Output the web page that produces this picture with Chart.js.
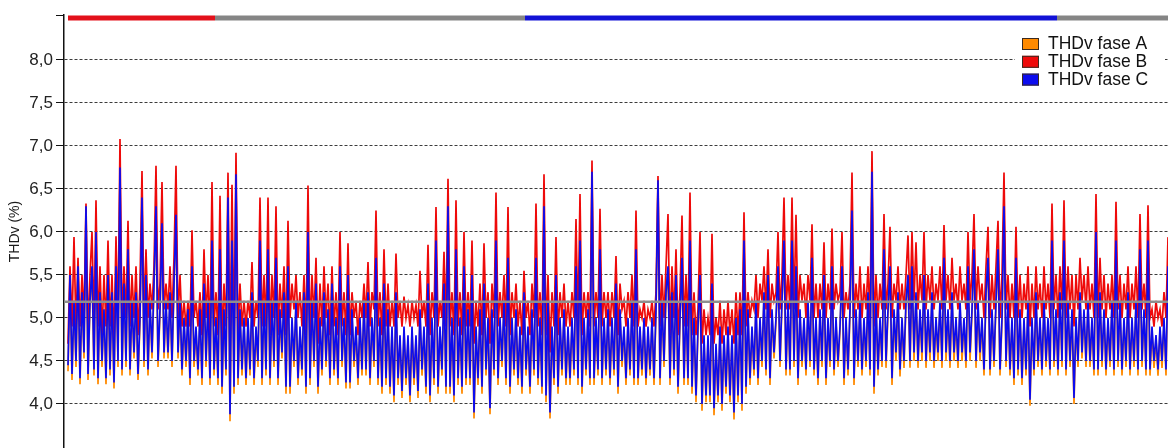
<!DOCTYPE html>
<html>
<head>
<meta charset="utf-8">
<title>THDv</title>
<script src="https://cdn.jsdelivr.net/npm/chart.js@4.4.1/dist/chart.umd.min.js"></script>
<style>
    html, body { margin: 0; padding: 0; background: #ffffff; }
    #thdChart { display: block; }
</style>
</head>
<body>
<canvas id="thdChart" width="1168" height="448"></canvas>
<script>
//THDv samples per phase (%), one sample per step of the time axis
var phaseA = [
    4.38, 5.45, 4.28, 5.15, 4.43, 5.55, 4.23, 5.25, 4.53, 6.25,
    4.28, 5.15, 5.55, 4.33, 5.95, 4.23, 5.25, 4.43, 5.05, 4.23,
    5.45, 4.33, 5.25, 4.18, 5.55, 4.43, 6.7, 4.33, 5.35, 4.43,
    5.75, 4.33, 5.15, 4.53, 5.25, 4.28, 4.95, 6.35, 4.43, 5.45,
    4.33, 5.15, 4.53, 5.35, 6.25, 4.43, 5.05, 6.05, 4.53, 5.15,
    4.53, 5.25, 4.43, 5.35, 6.15, 4.53, 5.15, 4.33, 4.95, 4.43,
    5.05, 4.22, 5.55, 4.43, 4.85, 4.33, 5.05, 4.22, 5.35, 4.43,
    5.15, 4.22, 5.85, 4.33, 4.95, 4.22, 5.75, 4.12, 5.05, 4.33,
    6.35, 3.8, 5.85, 4.12, 6.6, 4.22, 5.05, 4.33, 4.95, 4.22,
    4.95, 4.33, 5.25, 4.22, 4.85, 4.43, 5.85, 4.22, 5.15, 4.33,
    5.75, 4.22, 5.15, 4.43, 5.65, 4.22, 5.05, 4.53, 5.25, 4.12,
    5.55, 4.12, 4.95, 4.43, 5.15, 4.22, 4.85, 4.33, 5.25, 4.12,
    5.95, 4.22, 5.15, 4.43, 5.35, 4.12, 4.95, 4.33, 5.25, 4.43,
    5.05, 4.22, 5.35, 4.33, 4.95, 4.22, 5.55, 4.43, 4.95, 4.18,
    5.45, 4.18, 5.05, 4.43, 4.85, 4.22, 4.95, 4.33, 5.15, 4.33,
    5.25, 4.22, 4.95, 4.43, 5.65, 4.22, 4.95, 4.12, 5.35, 4.22,
    5.05, 4.12, 4.85, 4.02, 5.25, 4.22, 4.75, 4.07, 4.85, 4.22,
    4.75, 4.02, 4.85, 4.22, 4.75, 4.07, 5.05, 4.33, 4.85, 4.12,
    5.35, 4.02, 4.95, 4.22, 5.85, 4.12, 4.85, 4.33, 5.35, 4.12,
    6.25, 4.12, 4.95, 4.02, 5.75, 4.22, 4.95, 4.12, 5.55, 4.22,
    5.05, 4.22, 5.45, 3.83, 4.85, 4.22, 5.05, 4.12, 5.35, 4.33,
    4.95, 3.88, 5.05, 4.33, 5.85, 4.22, 4.95, 4.43, 5.15, 4.22,
    5.65, 4.12, 4.95, 4.33, 5.05, 4.22, 4.85, 4.12, 5.25, 4.33,
    4.85, 4.12, 5.05, 4.33, 5.65, 4.22, 4.95, 4.12, 6.25, 4.02,
    5.15, 3.83, 4.85, 4.22, 5.45, 4.12, 4.95, 4.33, 5.05, 4.22,
    4.85, 4.22, 4.95, 4.33, 5.55, 4.22, 5.85, 4.12, 4.95, 4.33,
    5.05, 4.22, 6.65, 4.22, 4.95, 4.33, 5.75, 4.22, 4.95, 4.33,
    5.05, 4.22, 4.95, 4.33, 5.35, 4.12, 5.05, 4.43, 4.85, 4.22,
    4.95, 4.33, 5.15, 4.22, 5.75, 4.22, 4.85, 4.33, 4.95, 4.22,
    4.85, 4.33, 4.95, 4.22, 5.05, 6.55, 4.22, 5.15, 4.43, 5.25,
    5.55, 4.22, 5.25, 4.33, 5.45, 4.12, 4.95, 5.65, 4.22, 5.15,
    4.22, 5.85, 4.12, 4.95, 4.02, 4.85, 5.45, 3.92, 4.75, 4.02,
    4.75, 4.02, 5.35, 3.87, 4.65, 4.02, 4.85, 3.92, 4.75, 4.12,
    4.85, 4.02, 4.75, 3.82, 4.95, 4.02, 5.05, 3.92, 5.85, 4.12,
    5.05, 4.22, 4.85, 4.33, 5.15, 4.22, 4.95, 4.43, 5.25, 4.33,
    5.45, 4.22, 5.05, 4.53, 4.95, 5.55, 4.43, 5.15, 5.85, 4.33,
    5.15, 4.33, 5.85, 4.43, 5.55, 4.22, 5.05, 4.43, 4.95, 4.33,
    5.15, 4.43, 5.65, 4.33, 4.95, 4.22, 5.05, 4.43, 5.45, 4.22,
    4.95, 4.43, 5.55, 4.33, 4.95, 4.43, 4.85, 5.55, 4.22, 4.95,
    4.33, 5.05, 6.2, 4.22, 5.05, 4.43, 5.15, 4.33, 4.95, 4.43,
    5.25, 4.33, 6.65, 4.12, 5.15, 4.33, 4.95, 4.43, 5.75, 4.42,
    5.05, 5.55, 4.22, 5.05, 4.5, 5.25, 4.32, 4.95, 4.42, 5.15,
    5.45, 4.42, 5.55, 4.5, 5.25, 4.42, 5.05, 4.5, 5.45, 4.42,
    5.05, 4.5, 5.25, 4.42, 4.95, 4.5, 5.15, 4.42, 5.65, 4.5,
    5.05, 4.42, 5.25, 4.5, 4.95, 4.42, 5.15, 4.5, 4.95, 4.42,
    5.55, 4.5, 5.05, 5.75, 4.42, 5.15, 4.5, 4.95, 4.33, 5.25,
    5.65, 4.33, 5.05, 4.43, 5.15, 5.75, 4.33, 4.95, 6.25, 4.43,
    5.15, 4.33, 4.95, 4.22, 5.65, 4.33, 5.05, 4.22, 4.95, 4.33,
    5.15, 3.98, 4.95, 4.33, 5.25, 4.43, 4.95, 4.33, 5.15, 4.43,
    4.95, 4.33, 5.85, 4.43, 5.05, 4.33, 5.25, 4.43, 5.85, 4.33,
    5.15, 4.43, 5.05, 4.0, 4.95, 4.43, 5.25, 4.53, 5.05, 4.43,
    5.15, 4.43, 4.95, 4.33, 5.95, 4.33, 5.25, 4.43, 5.05, 4.33,
    4.95, 4.43, 5.15, 4.33, 5.85, 4.43, 5.15, 4.33, 4.95, 4.43,
    5.25, 4.33, 4.95, 4.43, 5.15, 4.33, 5.75, 4.43, 5.05, 4.33,
    5.85, 4.33, 4.85, 4.42, 4.75, 4.33, 4.85, 4.42, 4.95, 4.33,
    5.55
];
var phaseB = [
    4.7, 5.6, 4.9, 5.94, 4.85, 5.7, 4.9, 5.5, 5.0, 6.33,
    4.8, 5.5, 6.0, 4.9, 6.37, 4.9, 5.6, 4.8, 5.5, 4.9,
    5.9, 4.9, 5.5, 4.7, 5.95, 4.9, 7.08, 4.9, 5.6, 5.0,
    6.13, 4.9, 5.5, 5.0, 5.6, 4.8, 5.4, 6.71, 5.0, 5.8,
    5.0, 5.4, 5.1, 5.6, 6.77, 5.1, 5.4, 6.58, 5.1, 5.4,
    5.1, 5.6, 5.0, 5.7, 6.77, 5.0, 5.5, 4.9, 5.2, 4.9,
    5.2, 4.9, 6.02, 5.0, 5.2, 4.9, 5.3, 4.8, 5.8, 5.0,
    5.5, 4.8, 6.58, 4.9, 5.3, 4.8, 6.42, 4.7, 5.4, 4.9,
    6.69, 4.5, 6.55, 4.7, 6.92, 4.8, 5.4, 4.9, 5.2, 4.9,
    5.2, 5.0, 5.65, 4.9, 5.2, 5.0, 6.4, 4.9, 5.5, 4.9,
    6.4, 4.8, 5.5, 5.0, 6.3, 4.8, 5.4, 5.0, 5.6, 4.8,
    6.13, 5.0, 5.4, 5.1, 5.5, 5.0, 5.3, 4.9, 5.5, 4.8,
    6.54, 4.8, 5.5, 5.0, 5.7, 4.7, 5.4, 4.9, 5.6, 5.0,
    5.4, 4.8, 5.6, 4.9, 5.3, 4.8, 6.0, 4.9, 5.3, 4.8,
    5.87, 4.8, 5.3, 5.0, 5.2, 4.8, 5.2, 5.0, 5.4, 5.0,
    5.65, 4.9, 5.3, 5.1, 6.25, 4.9, 5.3, 4.8, 5.8, 4.9,
    5.4, 4.9, 5.2, 4.9, 5.75, 5.0, 5.2, 4.9, 5.25, 5.0,
    5.15, 4.9, 5.2, 5.0, 5.15, 4.9, 5.55, 5.0, 5.2, 4.9,
    5.85, 4.8, 5.3, 5.0, 6.29, 4.9, 5.2, 5.0, 5.77, 4.9,
    6.62, 4.9, 5.3, 4.8, 6.37, 4.9, 5.3, 4.8, 6.0, 4.9,
    5.3, 4.9, 5.9, 4.7, 5.2, 4.9, 5.4, 4.8, 5.87, 5.0,
    5.3, 4.7, 5.4, 5.0, 6.46, 4.9, 5.3, 5.0, 5.5, 4.9,
    6.29, 4.8, 5.3, 5.0, 5.4, 4.9, 5.2, 4.8, 5.55, 5.0,
    5.2, 4.8, 5.4, 5.0, 6.33, 4.9, 5.3, 4.8, 6.67, 4.8,
    5.5, 4.6, 5.3, 4.9, 5.94, 4.8, 5.3, 5.0, 5.4, 4.9,
    5.2, 4.9, 5.3, 5.0, 6.15, 4.9, 6.44, 4.8, 5.3, 5.0,
    5.3, 4.9, 6.83, 4.9, 5.3, 5.0, 6.27, 4.9, 5.3, 5.0,
    5.3, 4.9, 5.3, 5.0, 5.72, 4.8, 5.4, 5.1, 5.2, 4.9,
    5.3, 5.0, 5.5, 4.9, 6.25, 4.9, 5.1, 5.0, 5.2, 4.9,
    5.1, 5.0, 5.2, 4.9, 5.3, 6.65, 4.9, 5.5, 5.0, 5.6,
    6.21, 4.8, 5.6, 5.0, 5.8, 4.8, 5.3, 6.19, 4.9, 5.5,
    4.9, 6.46, 4.8, 5.3, 4.8, 5.1, 6.0, 4.7, 5.1, 4.8,
    5.0, 4.8, 5.98, 4.7, 5.0, 4.8, 5.2, 4.7, 5.1, 4.8,
    5.2, 4.8, 5.1, 4.7, 5.3, 4.8, 5.3, 4.8, 6.23, 4.9,
    5.3, 5.0, 5.2, 5.1, 5.5, 5.0, 5.4, 5.2, 5.6, 5.1,
    5.8, 5.0, 5.4, 5.2, 5.3, 6.0, 5.1, 5.5, 6.4, 5.1,
    5.5, 5.1, 6.4, 5.1, 6.2, 5.0, 5.5, 5.2, 5.4, 5.0,
    5.5, 5.2, 6.09, 5.0, 5.4, 5.0, 5.4, 5.1, 5.88, 5.0,
    5.4, 5.1, 6.04, 5.1, 5.4, 5.2, 5.3, 6.0, 5.0, 5.3,
    5.1, 5.4, 6.69, 5.0, 5.4, 5.1, 5.6, 5.0, 5.4, 5.1,
    5.6, 5.0, 6.94, 4.9, 5.5, 5.0, 5.4, 5.1, 6.21, 5.1,
    5.4, 6.06, 5.0, 5.4, 5.2, 5.6, 5.1, 5.4, 5.1, 5.5,
    5.96, 5.1, 6.0, 5.2, 5.88, 5.1, 5.5, 5.2, 6.0, 5.1,
    5.5, 5.2, 5.6, 5.1, 5.4, 5.2, 5.6, 5.1, 6.08, 5.2,
    5.5, 5.1, 5.7, 5.2, 5.4, 5.1, 5.6, 5.2, 5.4, 5.1,
    6.0, 5.2, 5.5, 6.21, 5.1, 5.6, 5.2, 5.4, 5.0, 5.6,
    6.06, 5.0, 5.5, 5.1, 5.6, 6.13, 5.0, 5.5, 6.69, 5.1,
    5.5, 5.0, 5.4, 5.0, 6.06, 5.0, 5.5, 5.0, 5.4, 5.1,
    5.6, 4.9, 5.4, 5.0, 5.6, 5.1, 5.4, 5.0, 5.6, 5.1,
    5.4, 5.0, 6.33, 5.1, 5.5, 5.0, 5.6, 5.1, 6.37, 5.0,
    5.6, 5.1, 5.5, 4.9, 5.5, 5.1, 5.7, 5.2, 5.5, 5.1,
    5.6, 5.1, 5.4, 5.0, 6.44, 5.0, 5.7, 5.1, 5.5, 5.0,
    5.4, 5.1, 5.5, 5.0, 6.35, 5.1, 5.5, 5.0, 5.4, 5.1,
    5.6, 5.0, 5.4, 5.1, 5.6, 5.0, 6.21, 5.1, 5.4, 5.0,
    6.31, 5.0, 5.1, 4.9, 5.2, 5.0, 5.1, 4.9, 5.3, 5.0,
    5.94
];
var phaseC = [
    4.45, 5.5, 4.35, 5.2, 4.5, 5.6, 4.3, 5.3, 4.6, 6.3,
    4.35, 5.2, 5.6, 4.4, 6.0, 4.3, 5.3, 4.5, 5.1, 4.3,
    5.5, 4.4, 5.3, 4.25, 5.6, 4.5, 6.75, 4.4, 5.4, 4.5,
    5.8, 4.4, 5.2, 4.6, 5.3, 4.35, 5.0, 6.4, 4.5, 5.5,
    4.4, 5.2, 4.6, 5.4, 6.3, 4.5, 5.1, 6.1, 4.6, 5.2,
    4.6, 5.3, 4.5, 5.4, 6.2, 4.6, 5.2, 4.4, 5.0, 4.5,
    5.1, 4.3, 5.6, 4.5, 4.9, 4.4, 5.1, 4.3, 5.4, 4.5,
    5.2, 4.3, 5.9, 4.4, 5.0, 4.3, 5.8, 4.2, 5.1, 4.4,
    6.4, 3.88, 5.9, 4.2, 6.67, 4.3, 5.1, 4.4, 5.0, 4.3,
    5.0, 4.4, 5.3, 4.3, 4.9, 4.5, 5.9, 4.3, 5.2, 4.4,
    5.8, 4.3, 5.2, 4.5, 5.7, 4.3, 5.1, 4.6, 5.3, 4.2,
    5.6, 4.2, 5.0, 4.5, 5.2, 4.3, 4.9, 4.4, 5.3, 4.2,
    6.0, 4.3, 5.2, 4.5, 5.4, 4.2, 5.0, 4.4, 5.3, 4.5,
    5.1, 4.3, 5.4, 4.4, 5.0, 4.3, 5.6, 4.5, 5.0, 4.25,
    5.5, 4.25, 5.1, 4.5, 4.9, 4.3, 5.0, 4.4, 5.2, 4.4,
    5.3, 4.3, 5.0, 4.5, 5.7, 4.3, 5.0, 4.2, 5.4, 4.3,
    5.1, 4.2, 4.9, 4.1, 5.3, 4.3, 4.8, 4.15, 4.9, 4.3,
    4.8, 4.1, 4.9, 4.3, 4.8, 4.15, 5.1, 4.4, 4.9, 4.2,
    5.4, 4.1, 5.0, 4.3, 5.9, 4.2, 4.9, 4.4, 5.4, 4.2,
    6.3, 4.2, 5.0, 4.1, 5.8, 4.3, 5.0, 4.2, 5.6, 4.3,
    5.1, 4.3, 5.5, 3.9, 4.9, 4.3, 5.1, 4.2, 5.4, 4.4,
    5.0, 3.95, 5.1, 4.4, 5.9, 4.3, 5.0, 4.5, 5.2, 4.3,
    5.7, 4.2, 5.0, 4.4, 5.1, 4.3, 4.9, 4.2, 5.3, 4.4,
    4.9, 4.2, 5.1, 4.4, 5.7, 4.3, 5.0, 4.2, 6.3, 4.1,
    5.2, 3.9, 4.9, 4.3, 5.5, 4.2, 5.0, 4.4, 5.1, 4.3,
    4.9, 4.3, 5.0, 4.4, 5.6, 4.3, 5.9, 4.2, 5.0, 4.4,
    5.1, 4.3, 6.7, 4.3, 5.0, 4.4, 5.8, 4.3, 5.0, 4.4,
    5.1, 4.3, 5.0, 4.4, 5.4, 4.2, 5.1, 4.5, 4.9, 4.3,
    5.0, 4.4, 5.2, 4.3, 5.8, 4.3, 4.9, 4.4, 5.0, 4.3,
    4.9, 4.4, 5.0, 4.3, 5.1, 6.6, 4.3, 5.2, 4.5, 5.3,
    5.6, 4.3, 5.3, 4.4, 5.5, 4.2, 5.0, 5.7, 4.3, 5.2,
    4.3, 5.9, 4.2, 5.0, 4.1, 4.9, 5.5, 4.0, 4.8, 4.1,
    4.8, 4.1, 5.4, 3.95, 4.7, 4.1, 4.9, 4.0, 4.8, 4.2,
    4.9, 4.1, 4.8, 3.9, 5.0, 4.1, 5.1, 4.0, 5.9, 4.2,
    5.1, 4.3, 4.9, 4.4, 5.2, 4.3, 5.0, 4.5, 5.3, 4.4,
    5.5, 4.3, 5.1, 4.6, 5.0, 5.6, 4.5, 5.2, 5.9, 4.4,
    5.2, 4.4, 5.9, 4.5, 5.6, 4.3, 5.1, 4.5, 5.0, 4.4,
    5.2, 4.5, 5.7, 4.4, 5.0, 4.3, 5.1, 4.5, 5.5, 4.3,
    5.0, 4.5, 5.6, 4.4, 5.0, 4.5, 4.9, 5.6, 4.3, 5.0,
    4.4, 5.1, 6.25, 4.3, 5.1, 4.5, 5.2, 4.4, 5.0, 4.5,
    5.3, 4.4, 6.7, 4.2, 5.2, 4.4, 5.0, 4.5, 5.8, 4.5,
    5.1, 5.6, 4.3, 5.1, 4.6, 5.3, 4.4, 5.0, 4.5, 5.2,
    5.5, 4.5, 5.6, 4.6, 5.3, 4.5, 5.1, 4.6, 5.5, 4.5,
    5.1, 4.6, 5.3, 4.5, 5.0, 4.6, 5.2, 4.5, 5.7, 4.6,
    5.1, 4.5, 5.3, 4.6, 5.0, 4.5, 5.2, 4.6, 5.0, 4.5,
    5.6, 4.6, 5.1, 5.8, 4.5, 5.2, 4.6, 5.0, 4.4, 5.3,
    5.7, 4.4, 5.1, 4.5, 5.2, 5.8, 4.4, 5.0, 6.3, 4.5,
    5.2, 4.4, 5.0, 4.3, 5.7, 4.4, 5.1, 4.3, 5.0, 4.4,
    5.2, 4.05, 5.0, 4.4, 5.3, 4.5, 5.0, 4.4, 5.2, 4.5,
    5.0, 4.4, 5.9, 4.5, 5.1, 4.4, 5.3, 4.5, 5.9, 4.4,
    5.2, 4.5, 5.1, 4.07, 5.0, 4.5, 5.3, 4.6, 5.1, 4.5,
    5.2, 4.5, 5.0, 4.4, 6.0, 4.4, 5.3, 4.5, 5.1, 4.4,
    5.0, 4.5, 5.2, 4.4, 5.9, 4.5, 5.2, 4.4, 5.0, 4.5,
    5.3, 4.4, 5.0, 4.5, 5.2, 4.4, 5.8, 4.5, 5.1, 4.4,
    5.9, 4.4, 4.9, 4.5, 4.8, 4.4, 4.9, 4.5, 5.0, 4.4,
    5.6
];
var seriesLabels = ['THDv fase A', 'THDv fase B', 'THDv fase C'];
var yTicks = [4.0, 4.5, 5.0, 5.5, 6.0, 6.5, 7.0, 7.5, 8.0];
var yMin = 3.488;
var yMax = 8.523;
var meanLevel = 5.19;
//state strip over the top edge, in sample units
var stripFrom = [0, 73.5, 228.5, 494.5];
var stripTo = [73.5, 228.5, 494.5, 552];

var phaseColors = ['#ff8a00', '#ee0a0a', '#0c0cee'];
var stripColors = ['#e3111b', '#858585', '#1212d6', '#858585'];
var labelFont = "'Liberation Sans', Arial, sans-serif";

function toPoints(values) {
    return values.map(function (v, i) { return { x: i, y: v }; });
}

//phase datasets, phase C drawn on top
function phaseDatasets() {
    var series = [phaseA, phaseB, phaseC];
    return series.map(function (values, k) {
        return {
            label: seriesLabels[k],
            data: toPoints(values),
            borderColor: phaseColors[k],
            backgroundColor: phaseColors[k],
            borderWidth: 1.7,
            pointRadius: 0,
            tension: 0,
            order: 3 - k
        };
    });
}

function extraDatasets(lastIndex) {
    var sets = [{
        label: 'media',
        data: [{ x: -3, y: meanLevel }, { x: lastIndex + 3, y: meanLevel }],
        borderColor: '#8e8e8e',
        borderWidth: 2.5,
        pointRadius: 0,
        order: 0
    }];
    for (var s = 0; s < stripFrom.length; s++) {
        sets.push({
            label: 'strip',
            data: [{ x: stripFrom[s], y: 8.488 }, { x: stripTo[s], y: 8.488 }],
            borderColor: stripColors[s],
            borderWidth: 5,
            pointRadius: 0,
            clip: false,
            order: 5
        });
    }
    return sets;
}

//legend box drawn inside the plot, top right
var legendBox = {
    id: 'legendBox',
    afterDraw: function (chart) {
        var ctx = chart.ctx;
        var right = chart.chartArea.right;
        ctx.save();
        ctx.fillStyle = '#ffffff';
        ctx.fillRect(right - 153, 31, 150, 62);
        ctx.font = '17.5px ' + labelFont;
        ctx.textBaseline = 'middle';
        for (var k = 0; k < 3; k++) {
            var ds = chart.data.datasets[k];
            var top = 38 + k * 17.8;
            ctx.fillStyle = ds.borderColor;
            ctx.fillRect(right - 146, top, 17, 12);
            ctx.strokeStyle = '#3a2a20';
            ctx.lineWidth = 1;
            ctx.strokeRect(right - 145.5, top + 0.5, 16, 11);
            ctx.fillStyle = '#111111';
            ctx.fillText(ds.label, right - 120, top + 6.5);
        }
        ctx.restore();
    }
};

var lastIndex = phaseC.length - 1;
var datasets = phaseDatasets().concat(extraDatasets(lastIndex));

new Chart(document.getElementById('thdChart'), {
    type: 'line',
    data: { datasets: datasets },
    plugins: [legendBox],
    options: {
        responsive: false,
        animation: false,
        devicePixelRatio: 1,
        layout: { autoPadding: false, padding: { top: 15, right: 0, bottom: 0, left: 0 } },
        plugins: {
            legend: { display: false },
            tooltip: { enabled: false }
        },
        scales: {
            x: {
                type: 'linear',
                display: false,
                min: -2,
                max: 550
            },
            y: {
                min: yMin,
                max: yMax,
                afterBuildTicks: function (scale) {
                    scale.ticks = yTicks.concat([yMax]).map(function (v) { return { value: v }; });
                },
                afterFit: function (scale) {
                    scale.width = 64;
                    scale.paddingTop = 0;
                    scale.paddingBottom = 0;
                },
                ticks: {
                    color: '#222222',
                    padding: 3,
                    font: { family: labelFont, size: 17 },
                    callback: function (value) {
                        return yTicks.indexOf(value) >= 0 ? value.toFixed(1).replace('.', ',') : '';
                    }
                },
                grid: {
                    color: function (ctx) {
                        return ctx.tick && ctx.tick.value === yMax ? 'rgba(0,0,0,0)' : '#3c3c3c';
                    },
                    lineWidth: 1,
                    tickLength: 8,
                    tickColor: '#111111',
                    tickWidth: 1
                },
                border: { display: true, color: '#111111', width: 1.5, dash: [3, 2] },
                title: {
                    display: true,
                    text: 'THDv (%)',
                    color: '#1a1a1a',
                    font: { family: labelFont, size: 14 },
                    padding: { top: 7, bottom: 0 }
                }
            }
        }
    }
});
</script>
</body>
</html>
